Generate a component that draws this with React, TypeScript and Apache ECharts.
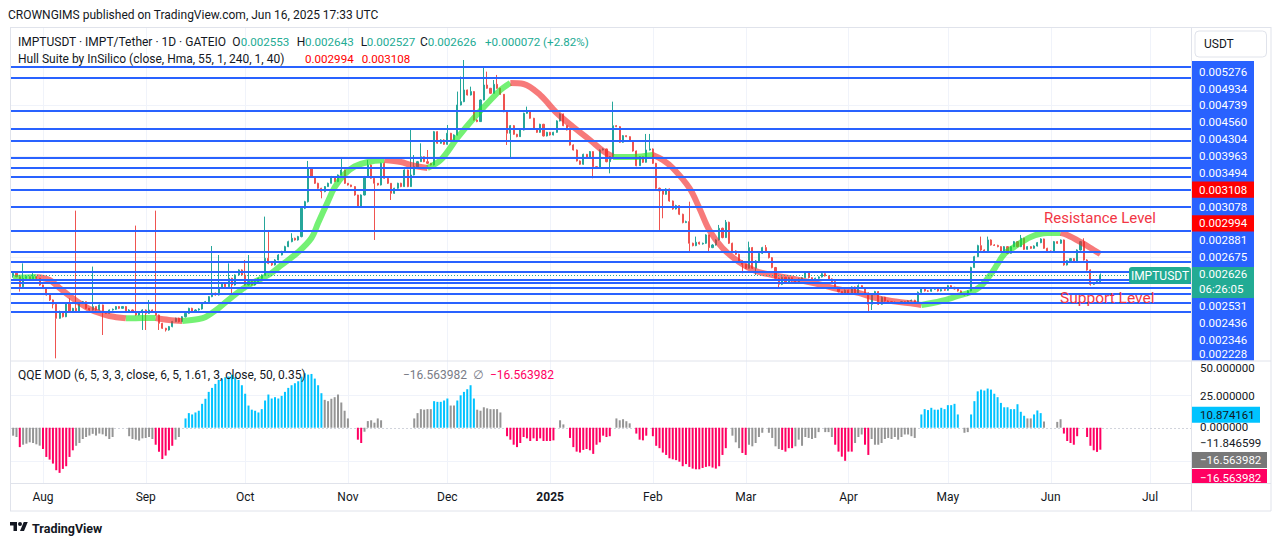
import React, { useEffect, useRef } from "react";
import * as echarts from "echarts";

const FONT = "Roboto, 'Noto Sans', 'DejaVu Sans', sans-serif";
const TEXT = "#131722";
const UP = "#26a69a";
const DOWN = "#ef5350";
const LEVEL_BLUE = "#2962ff";
const GRID_LINE = "#f0f3fa";
const BORDER = "#e0e3eb";

// ---------- data ----------
const startDate = Date.UTC(2024, 6, 23); // first daily candle
const categoryCount = 356; // days shown on the time axis (incl. empty right margin)
const monthNames = ["Jan", "Feb", "Mar", "Apr", "May", "Jun", "Jul", "Aug", "Sep", "Oct", "Nov", "Dec"];

// IMPTUSDT daily candles, micro-USDT: [open, high, low, close]
const ohlc: number[][] = [
  [2619,2663,2596,2645],[2645,2650,2600,2607],[2607,2612,2446,2498],[2498,2760,2490,2589],[2589,2615,2584,2607],
  [2607,2612,2565,2571],[2571,2663,2566,2607],[2607,2612,2583,2589],[2589,2594,2508,2516],[2516,2520,2474,2481],
  [2481,2485,2404,2411],[2411,2415,2350,2360],[2360,2365,2277,2317],[2317,2322,1839,2182],[2182,2255,2178,2245],
  [2245,2250,2190,2197],[2197,2336,2193,2326],[2326,2377,2238,2245],[2245,2282,2240,2277],[2277,3457,2238,2245],
  [2245,2332,2240,2326],[2326,2350,2320,2343],[2343,2346,2270,2277],[2277,2280,2254,2261],[2261,2722,2256,2294],
  [2294,2298,2255,2261],[2261,2316,2256,2310],[2310,2314,2032,2245],[2245,2250,2222,2229],[2229,2266,2225,2261],
  [2261,2275,2255,2268],[2268,2300,2262,2294],[2294,2298,2270,2277],[2277,2300,2273,2294],[2294,2298,2238,2245],
  [2245,2268,2240,2261],[2261,2266,2238,2245],[2245,3243,2206,2213],[2213,2250,2208,2245],[2245,2268,2076,2261],
  [2261,2266,2076,2229],[2229,2360,2224,2261],[2261,2266,2238,2245],[2245,3457,2206,2213],[2213,2218,2076,2136],
  [2136,2140,2085,2091],[2091,2095,2062,2076],[2076,2112,2070,2106],[2106,2158,2100,2152],[2152,2188,2146,2182],
  [2182,2188,2145,2152],[2152,2203,2146,2197],[2197,2235,2190,2229],[2229,2283,2222,2277],[2277,2283,2238,2245],
  [2245,2268,2238,2261],[2261,2278,2255,2271],[2271,2333,2265,2326],[2326,2350,2320,2343],[2343,2400,2336,2394],
  [2394,2972,2388,2429],[2429,2436,2404,2411],[2411,2860,2405,2481],[2481,2541,2475,2534],[2534,2540,2490,2498],
  [2498,2760,2492,2589],[2589,2595,2428,2516],[2516,2633,2510,2626],[2626,2690,2620,2683],[2683,2690,2620,2626],
  [2626,2800,2509,2516],[2516,2860,2510,2553],[2553,2560,2509,2516],[2516,2560,2510,2553],[2553,2596,2546,2589],
  [2589,2633,2582,2626],[2626,3370,2620,2820],[2820,3183,2750,2760],[2760,2770,2730,2741],[2741,2810,2735,2800],
  [2800,2870,2795,2860],[2860,2912,2855,2901],[2901,2975,2895,2964],[2964,3040,2958,3028],[3028,3139,3020,3072],
  [3072,3080,3042,3050],[3050,3104,3042,3094],[3094,3505,3085,3492],[3492,3605,3480,3592],[3592,4275,3580,4143],
  [4143,4150,3985,3998],[3998,4005,3875,3886],[3886,3895,3795,3804],[3804,3812,3644,3750],[3750,3840,3740,3831],
  [3831,3896,3825,3886],[3886,4010,3880,3998],[3998,4005,3905,3913],[3913,4035,3905,4026],[4026,4312,4020,4113],
  [4113,4120,3875,3886],[3886,3890,3848,3858],[3858,3862,3822,3831],[3831,3838,3685,3696],[3696,3700,3505,3517],
  [3517,3705,3510,3696],[3696,4010,3690,3998],[3998,4293,3990,4202],[4202,4210,3960,3970],[3970,3975,3050,3886],
  [3886,3890,3848,3858],[3858,4245,3850,4232],[4232,4240,3960,3970],[3970,3975,3875,3886],[3886,3890,3618,3723],
  [3723,3812,3715,3804],[3804,3895,3795,3886],[3886,3895,3822,3831],[3831,4125,3825,4113],[4113,4120,3822,3831],
  [3831,4880,3825,4026],[4026,4385,4020,4172],[4172,4275,4165,4262],[4262,4610,4255,4353],[4353,4360,4252,4262],
  [4262,4480,4222,4232],[4232,4240,4192,4202],[4202,4860,4195,4845],[4845,4855,4600,4611],[4611,4690,4600,4676],
  [4676,4690,4580,4590],[4590,4985,4582,4812],[4812,4820,4665,4676],[4676,4790,4665,4777],[4777,5750,4765,5430],
  [5430,6131,5420,5508],[5508,6581,5495,5790],[5790,5800,5655,5667],[5667,5873,5655,5750],[5750,5760,5080,5093],
  [5093,5110,5045,5058],[5058,5560,5050,5547],[5547,6371,5540,5914],[5914,6262,5820,5832],[5832,5840,5695,5708],
  [5708,6042,5700,5931],[5931,6174,5820,5832],[5832,5840,5672,5684],[5684,5690,5265,5278],[5278,5285,4577,4812],
  [4812,4985,4324,4971],[4971,4985,4780,4791],[4791,4800,4730,4743],[4743,4895,4735,4880],[4880,5255,4870,5241],
  [5241,5392,5230,5292],[5292,5300,5120,5130],[5130,5140,4890,4901],[4901,4910,4820,4831],[4831,5012,4822,5000],
  [5000,5010,4745,4757],[4757,4842,4748,4831],[4831,4840,4765,4777],[4777,4842,4768,4831],[4831,5085,4822,5072],
  [5072,5240,5062,5226],[5226,5235,4960,4971],[4971,4980,4870,4880],[4880,4890,4565,4577],[4577,4590,4470,4480],
  [4480,4490,4265,4275],[4275,4285,4205,4215],[4215,4410,4205,4398],[4398,4405,4325,4336],[4336,4460,4325,4449],
  [4449,4455,3970,4172],[4172,4180,4130,4143],[4143,4492,4135,4480],[4480,4512,4470,4500],[4500,4505,4250,4262],
  [4262,4365,4055,4353],[4353,5508,4345,4971],[4971,4985,4940,4950],[4950,4960,4618,4630],[4630,4775,4620,4763],
  [4763,4770,4732,4743],[4743,4750,4645,4656],[4656,4665,4450,4461],[4461,4470,4178,4190],[4190,4365,4185,4353],
  [4353,4360,4240,4251],[4251,4798,4245,4480],[4480,4798,4470,4500],[4500,4510,4222,4232],[4232,4240,3794,3804],
  [3804,3815,3183,3760],[3760,3770,3346,3707],[3707,3805,3700,3792],[3792,3800,3592,3603],[3603,3610,3470,3482],
  [3482,3545,3475,3532],[3532,3540,3392,3404],[3404,3412,3275,3285],[3285,3312,3278,3299],[3299,3592,2901,3007],
  [3007,3015,2968,2977],[2977,3094,2970,3020],[3020,3028,2990,2998],[2998,3015,2990,3007],[3007,3125,3000,3116],
  [3116,3120,2901,2952],[2952,2995,2945,2985],[2985,3060,2978,3050],[3050,3252,3042,3206],[3206,3215,3072,3081],
  [3081,3322,3075,3290],[3290,3298,2998,3007],[3007,3015,2900,2910],[2910,2918,2860,2869],[2869,2876,2778,2788],
  [2788,2795,2645,2749],[2749,2755,2694,2703],[2703,3028,2698,2952],[2952,2960,2694,2703],[2703,2798,2626,2788],
  [2788,2892,2780,2881],[2881,2962,2872,2952],[2952,2985,2884,2893],[2893,2900,2818,2828],[2828,2835,2702,2711],
  [2711,2718,2580,2589],[2589,2595,2481,2523],[2523,2608,2515,2600],[2600,2605,2530,2539],[2539,2604,2532,2596],
  [2596,2600,2552,2560],[2560,2565,2545,2553],[2553,2590,2548,2582],[2582,2604,2575,2596],[2596,2665,2590,2656],
  [2656,2660,2588,2596],[2596,2600,2566,2574],[2574,2596,2568,2589],[2589,2612,2582,2604],[2604,2650,2598,2641],
  [2641,2645,2608,2615],[2615,2620,2575,2582],[2582,2588,2546,2553],[2553,2558,2480,2488],[2488,2493,2438,2446],
  [2446,2450,2424,2432],[2432,2468,2426,2460],[2460,2466,2425,2432],[2432,2502,2426,2495],[2495,2500,2425,2432],
  [2432,2523,2426,2509],[2509,2512,2474,2481],[2481,2486,2425,2432],[2432,2438,2245,2317],[2317,2425,2261,2418],
  [2418,2454,2410,2446],[2446,2452,2310,2317],[2317,2395,2312,2387],[2387,2392,2343,2350],[2350,2356,2336,2343],
  [2343,2350,2330,2337],[2337,2345,2326,2333],[2333,2340,2323,2330],[2330,2350,2325,2343],[2343,2348,2320,2326],
  [2326,2357,2322,2350],[2350,2364,2345,2357],[2357,2362,2323,2330],[2330,2447,2325,2439],[2439,2482,2432,2474],
  [2474,2480,2446,2453],[2453,2462,2442,2450],[2450,2477,2445,2470],[2470,2488,2465,2481],[2481,2486,2446,2453],
  [2453,2474,2448,2467],[2467,2472,2453,2460],[2460,2517,2455,2509],[2509,2515,2485,2491],[2491,2496,2467,2474],
  [2474,2479,2446,2453],[2453,2458,2418,2425],[2425,2430,2404,2411],[2411,2460,2405,2453],[2453,2720,2448,2711],
  [2711,2850,2705,2840],[2840,2988,2835,2977],[2977,3094,2912,2922],[2922,2930,2892,2901],[2901,3094,2895,3050],
  [3050,3058,2978,2985],[2985,2995,2972,2980],[2980,2988,2956,2964],[2964,2970,2893,2901],[2901,2972,2895,2964],
  [2964,2970,2873,2881],[2881,2972,2875,2964],[2964,3037,2958,3028],[3028,3035,2956,2964],[2964,3116,2958,3072],
  [3072,3078,2922,2930],[2930,2972,2925,2964],[2964,2970,2936,2943],[2943,2980,2938,2972],[2972,3024,2966,3015],
  [3015,3072,3008,3063],[3063,3068,2936,2943],[2943,2950,2902,2910],[2910,2916,2890,2897],[2897,3037,2892,3028],
  [3028,3035,2999,3007],[3007,3058,3000,3050],[3050,3055,2733,2741],[2741,2800,2735,2792],[2792,2824,2786,2816],
  [2816,2822,2776,2784],[2784,2930,2778,2922],[2922,3037,2915,3028],[3028,3072,2792,2800],[2800,2808,2675,2683],
  [2683,2690,2509,2523],[2523,2546,2516,2539],[2539,2560,2532,2553],[2553,2643,2527,2626],
];

// QQE MOD histogram per candle (null = no bar)
const qqeValues: (number | null)[] = [
  -6,-7,-14.6,-12.8,-12,-11,-11.5,-12.5,-13.5,-16,
  -22,-24,-27,-32,-34,-31,-29,-22,-17,-13.6,
  -11.5,-8.5,-7,-5.9,-4.6,-5.9,-4.4,-5,-6.4,-8.5,
  -7,null,null,null,null,-6.4,-8.5,-9,-9.7,-8,
  -7.7,-7,-8.5,-12.8,-18,-23.6,-21,-17,-13.6,-9,
  -7,null,7,11,10,11.5,12.8,18,21.8,27,
  30,33,36,37,38,38.5,40,38,36,32,
  25.6,16.7,13.6,12.8,11.5,14,20.5,25,22,23,
  22,24,27,30,32,33.5,35,38.5,41,40,
  40.5,37,32,26,21,20,21.8,23,25,19,
  12.8,7,null,null,-9,-11.5,-3,5,5.6,3.8,
  7,5.6,null,null,null,null,null,null,null,null,
  null,7,11,14,13.6,14,14,20,19.5,19.5,
  20.5,22,16.7,16.7,20.5,24.4,27,29,32,22,
  13.6,12.8,15.4,14.6,14,14,14,11.5,null,-6.4,
  -9,-12.8,-14.6,-11.5,-7,-8,-10,-8,-10,-8,
  -10,-10,-10,-9.5,null,5.6,2.5,null,-7.7,-14.6,
  -18,-18.7,-16.7,-16,-17,-19.7,-12.8,-11,-6,-7,
  -6.4,null,7,5.6,6.4,4.9,3.3,null,-4.4,-9,
  -9.5,-6,null,-6.4,-13.6,-15.4,-18.7,-20.5,-23,-23.8,
  -24.4,-25.6,-29,-27.4,-29.5,-30.8,-31.3,-31.3,-30.3,-29.5,
  -29,-30,-30.8,-29,-20.5,-15.4,null,-6,-11,-15.4,
  -19,-20.5,-12.8,-14,-11.5,-7,-3.8,null,-3.8,-7.7,
  -14,-16,-16.7,-18,-15.4,-15.4,-14,-9,-13.6,-7,
  -7.7,-8.5,-7.7,-3.3,null,-3.3,-3.3,-7,-12.8,-18,
  -21.8,-24.9,-18,-18,-11.5,-7,-5.1,-12.8,-20.5,-8.5,
  -12.8,-12.8,-11.5,-8.5,-7.7,-8.5,-7,-9,-7,-5.1,
  -5.1,-6.4,-7.7,null,10,14,13.3,15,13.6,13.6,
  15,14,17,17,18,10,null,-3.8,-3.3,10,
  20,27.4,28.7,28,29.5,28.7,25.6,23,18.7,15.4,
  15.4,14,14,17.7,12,9,7,7,10,13,
  11,4.6,null,null,null,4.4,6.4,-4.4,-10,-11.5,
  -12.8,-6.4,null,null,-7,-13.6,-17,-18.2,-16.56,
];
// bar class per candle: b = above upper threshold, p = below lower, g = neutral
const qqeClasses =
  "ggpggggggp" + "pppppppppg" + "gggggggggg" + "g....ggggg" + "gggppppppg" +
  "g.bbbbbbbb" + "bbbbbbbbbb" + "bbbbbbbbbb" + "bbbbbbbbbb" + "bbbbgggggg" +
  "gg..ppgggg" + "gg........" + ".ggggggbbb" + "bbggbbbbbb" + "gggggggg.p" +
  "pppppppppp" + "pppp.gg.pp" + "pppppppppp" + "p.ggggg.pp" + "pp.ppppppp" +
  "pppppppppp" + "pppppp.ggg" + "ppggggg.gg" + "ggppppgggg" + "gggg.gggpp" +
  "ppppgggppg" + "gggggggggg" + "ggg.bbbbbb" + "bbbbbb.ggb" + "bbbbbbbbbb" +
  "bbbbbbggbb" + "bg...ggppp" + "pp..ppppp";

// Hull Suite band, [candle index, micro-USDT], split by trend colour
const hullSegments: { up: boolean; pts: number[][] }[] = [
  { up: true, pts: [[0,2593],[7,2604]] },
  { up: false, pts: [[7,2604],[11,2571],[14,2484],[17,2401],[20,2330],[23,2271],[26,2232],[29,2204],[34,2182]] },
  { up: true, pts: [[34,2182],[39,2184],[43,2185]] },
  { up: false, pts: [[43,2185],[47,2167],[51,2158]] },
  { up: true, pts: [[51,2158],[56,2176],[58,2194],[62,2280],[66,2390],[71,2516],[77,2626],[81,2741],[86,2897],[90,3076],[92,3280],[95,3600],[97,3820],[100,4040],[103,4175],[107,4256],[112,4293]] },
  { up: false, pts: [[112,4293],[117,4256],[120,4202],[125,4148]] },
  { up: true, pts: [[125,4148],[129,4293],[134,4716],[139,5137],[144,5547],[147,5790],[150,5965]] },
  { up: false, pts: [[150,5965],[154,5940],[159,5667],[164,5247],[169,4943],[174,4676],[178,4461],[181,4348]] },
  { up: true, pts: [[181,4348],[187,4348],[193,4385]] },
  { up: false, pts: [[193,4385],[196,4293],[199,4148],[204,3809],[207,3497],[210,3183],[214,2947],[219,2776],[224,2672],[229,2626],[234,2593],[240,2549],[244,2516],[250,2463],[255,2432],[259,2390],[265,2350],[270,2330],[274,2310]] },
  { up: true, pts: [[274,2310],[280,2350],[285,2401],[289,2442],[292,2505],[295,2637],[297,2753],[299,2872],[302,2960],[307,3090],[312,3143],[316,3143]] },
  { up: false, pts: [[316,3143],[318,3116],[322,3024],[326,2922],[328,2872]] },
];

// user-drawn horizontal levels (micro-USDT)
const levelLines = [6397, 6103, 5301, 4906, 4654, 4330, 4154, 3998, 3781, 3516, 3174, 2901, 2780, 2660, 2571, 2534, 2480, 2421, 2327, 2239];
const priceGridLevels = [5430, 4372, 2840];
const lastPrice = 2626;
const priceRange = [1826, 7578];
const qqeRange = [-42, 51];
const qqeGridLevels = [25, -25];

// stacked price-scale labels (top to bottom)
const priceAxisLabels = ["0.005276","0.004934","0.004739","0.004560","0.004304","0.003963","0.003494","0.003108","0.003078","0.002994","0.002881","0.002675","0.002626","0.002531","0.002436","0.002346","0.002228"];
const hullAxisLabels = ["0.003108", "0.002994"];
const lastPriceLabel = "0.002626";
const countdown = "06:26:05";
const qqeAxisTicks = ["50.000000", "25.000000", "0.000000", "−11.846599"];
const qqeAxisBoxes = ["10.874161", "−16.563982", "−16.563982"];

// ---------- helpers ----------
const TV_LOGO = "M14 22H7V11H0V4h14v18z M28 22h-8l7.5-18h8L28 22z M24 8a4 4 0 1 1-8 0 4 4 0 0 1 8 0z";
let logoRegistered = false;
function registerLogo() {
  if (logoRegistered) return;
  echarts.graphic.registerShape("tvlogo", echarts.graphic.extendPath(TV_LOGO, {}) as any);
  logoRegistered = true;
}

function txt(x: number, y: number, text: string, o: any = {}) {
  const align = o.align || "left";
  return {
    type: "text", x, y, z: o.z ?? 100, silent: true,
    style: {
      text, fill: o.fill || TEXT, fontSize: o.size || 12, fontFamily: FONT, fontWeight: o.weight || "normal",
      align, verticalAlign: "middle", textAlign: align, textVerticalAlign: "middle",
    },
  };
}
function rect(x: number, y: number, w: number, h: number, fill: string, o: any = {}) {
  return { type: "rect", z: o.z ?? 90, silent: true, shape: { x, y, width: w, height: h, r: o.r || 0 }, style: { fill, stroke: o.stroke || null, lineWidth: 1 } };
}
function ln(x1: number, y1: number, x2: number, y2: number, color: string) {
  return { type: "line", z: 95, silent: true, shape: { x1, y1, x2, y2 }, style: { stroke: color, lineWidth: 1 } };
}

// horizontal rule across a grid at each value, positioned by the axis scale
function hRules(axisIdx: number, values: number[], stroke: string, width: number, z: number, dash?: number[]) {
  return {
    type: "custom", xAxisIndex: axisIdx, yAxisIndex: axisIdx, z, silent: true, clip: false,
    data: values.map((v) => [0, v]),
    renderItem: (params: any, api: any) => {
      const cs = params.coordSys;
      let y = api.coord([api.value(0), api.value(1)])[1];
      if (width % 2 === 1) y = Math.round(y) + 0.5; else y = Math.round(y);
      return {
        type: "line", silent: true,
        shape: { x1: cs.x - 1.5, y1: y, x2: cs.x + cs.width, y2: y },
        style: { stroke, lineWidth: width, lineDash: dash || null },
      };
    },
  };
}
// vertical rule through a grid at each category index
function vRules(axisIdx: number, indices: number[], yRef: number, stroke: string, z: number) {
  return {
    type: "custom", xAxisIndex: axisIdx, yAxisIndex: axisIdx, z, silent: true, clip: false,
    data: indices.map((i) => [i, yRef]),
    renderItem: (params: any, api: any) => {
      const cs = params.coordSys;
      const x = Math.round(api.coord([api.value(0), api.value(1)])[0]) + 0.5;
      return {
        type: "line", silent: true,
        shape: { x1: x, y1: cs.y, x2: x, y2: cs.y + cs.height },
        style: { stroke, lineWidth: 1 },
      };
    },
  };
}

function buildOption() {
  const categories: string[] = [];
  for (let i = 0; i < categoryCount; i++) {
    categories.push(new Date(startDate + i * 86400000).toISOString().slice(0, 10));
  }
  const monthStartIdx: number[] = [];
  categories.forEach((c, i) => { if (c.slice(8) === "01") monthStartIdx.push(i); });
  const toPrice = (v: number) => v / 1e6;

  const candleData = ohlc.map(([o, h, l, c]) => [toPrice(o), toPrice(c), toPrice(l), toPrice(h)]);
  const qqeColor: Record<string, string> = { b: "#00c3ff", p: "#ff0062", g: "#959595" };
  const qqeData = qqeValues.map((v, i) =>
    v == null || qqeClasses[i] === "." ? "-" : { value: v, itemStyle: { color: qqeColor[qqeClasses[i]] } }
  );

  const hullSeries = hullSegments.map((s) => ({
    type: "line", xAxisIndex: 0, yAxisIndex: 0, z: 3, smooth: 0.35, showSymbol: false, symbol: "none", silent: true,
    emphasis: { disabled: true },
    lineStyle: { width: 6, color: s.up ? "rgba(30,232,30,0.62)" : "rgba(242,40,40,0.62)", cap: "butt" },
    data: s.pts.map(([i, v]) => [i, toPrice(v)]),
  }));

  const g: any[] = [];
  // frame
  g.push(ln(10, 27.5, 1271, 27.5, BORDER));
  g.push(ln(10.5, 27, 10.5, 511, BORDER));
  g.push(ln(1271, 27, 1271, 511, BORDER));
  g.push(ln(10, 511, 1271, 511, BORDER));
  g.push(ln(1191.5, 27, 1191.5, 511, BORDER));
  g.push(ln(10, 361, 1271, 361, BORDER));
  g.push(ln(10, 483.5, 1271, 483.5, BORDER));

  // header and legends
  const teal = "#22ab94";
  const vs = 11.6;
  g.push(txt(8, 15, "CROWNGIMS published on TradingView.com, Jun 16, 2025 17:33 UTC", { size: 12 }));
  g.push(txt(18, 42, "IMPTUSDT · IMPT/Tether · 1D · GATEIO"));
  g.push(txt(232.3, 42, "O"));
  g.push(txt(240.7, 42, "0.002553", { fill: teal, size: vs }));
  g.push(txt(296.7, 42, "H"));
  g.push(txt(305, 42, "0.002643", { fill: teal, size: vs }));
  g.push(txt(360.7, 42, "L"));
  g.push(txt(366.7, 42, "0.002527", { fill: teal, size: vs }));
  g.push(txt(420, 42, "C"));
  g.push(txt(427.7, 42, "0.002626", { fill: teal, size: vs }));
  g.push(txt(485, 42, "+0.000072 (+2.82%)", { fill: teal, size: vs }));
  g.push(txt(18, 59, "Hull Suite by InSilico (close, Hma, 55, 1, 240, 1, 40)"));
  g.push(txt(305, 59, hullAxisLabels[1], { fill: "#ff0000", size: vs }));
  g.push(txt(361.7, 59, hullAxisLabels[0], { fill: "#ff0000", size: vs }));
  g.push(txt(18, 375, "QQE MOD (6, 5, 3, 3, close, 6, 5, 1.61, 3, close, 50, 0.35)"));
  g.push(txt(403, 375, qqeAxisBoxes[1], { fill: "#787b86" }));
  g.push(txt(473, 375, "∅", { fill: "#787b86" }));
  g.push(txt(490, 375, qqeAxisBoxes[2], { fill: "#ff0062" }));

  // annotations
  g.push(txt(1044, 218, "Resistance Level", { fill: "#f23645", size: 15 }));
  g.push(txt(1060, 298, "Support Level", { fill: "#f23645", size: 15.5 }));

  // price scale
  g.push(rect(1195, 31, 71.5, 26, "#ffffff", { r: 4, stroke: BORDER }));
  g.push(txt(1204, 44, "USDT", { size: 12 }));
  g.push(txt(1200, 368, qqeAxisTicks[0], { size: 11.5, z: 80 }));
  g.push(rect(1192, 61, 62, 299.5, LEVEL_BLUE));
  let cy = 71.7;
  priceAxisLabels.forEach((lab, k) => {
    if (lab === lastPriceLabel) {
      g.push(rect(1192, 267, 62, 31, teal, { z: 91 }));
      g.push(txt(1199, cy, lab, { fill: "#ffffff", size: 11.5 }));
      g.push(txt(1199, cy + 15.5, countdown, { fill: "#ffffff", size: 11.5 }));
      g.push(rect(1129, 267, 62, 17, teal, { r: 3, z: 91 }));
      g.push(txt(1160, 275.6, "IMPTUSDT", { fill: "#ffffff", size: 12, align: "center" }));
      cy += 32.2;
      return;
    }
    if (hullAxisLabels.includes(lab)) g.push(rect(1192, cy - 8.2, 62, 16.4, "#ff0000", { z: 91 }));
    const y = k === priceAxisLabels.length - 1 ? cy - 2.5 : cy;
    g.push(txt(1199, y, lab, { fill: "#ffffff", size: 11.5 }));
    cy += 16.85;
  });

  // QQE scale
  g.push(txt(1200, 395.6, qqeAxisTicks[1], { size: 11.5 }));
  g.push(rect(1192, 406.7, 68, 16, "#00c3ff"));
  g.push(txt(1200, 414.7, qqeAxisBoxes[0], { size: 11.5 }));
  g.push(txt(1200, 427, qqeAxisTicks[2], { size: 11.5 }));
  g.push(txt(1200, 443.3, qqeAxisTicks[3], { size: 11.5 }));
  g.push(rect(1192, 452, 75, 16, "#787878"));
  g.push(txt(1200, 460, qqeAxisBoxes[1], { fill: "#ffffff", size: 11.5 }));
  g.push(rect(1192, 469, 75, 14.5, "#ff0062"));
  g.push(txt(1200, 477.5, qqeAxisBoxes[2], { fill: "#ffffff", size: 11.5 }));

  // footer logo
  g.push({ type: "tvlogo", x: 10, y: 520, scaleX: 0.5, scaleY: 0.5, z: 100, silent: true, style: { fill: TEXT } });
  g.push(txt(32, 528.5, "TradingView", { size: 12.5, weight: "bold" }));

  return {
    animation: false,
    backgroundColor: "#ffffff",
    textStyle: { fontFamily: FONT },
    grid: [
      { left: 11.5, right: 89.5, top: 27, height: 333 },
      { left: 11.5, right: 89.5, top: 360, height: 123.5 },
    ],
    xAxis: [
      { type: "category", gridIndex: 0, data: categories, boundaryGap: true, show: false },
      {
        type: "category", gridIndex: 1, data: categories, boundaryGap: true,
        axisLine: { show: false }, axisTick: { show: false }, splitLine: { show: false },
        axisLabel: {
          show: true, margin: 7, color: TEXT, fontSize: 12, fontFamily: FONT,
          interval: (_i: number, v: string) => v.slice(8) === "01",
          formatter: (v: string) => {
            const m = +v.slice(5, 7);
            return m === 1 ? "{y|" + v.slice(0, 4) + "}" : monthNames[m - 1];
          },
          rich: { y: { fontWeight: "bold", fontSize: 12, fontFamily: FONT, color: TEXT } },
        },
      },
    ],
    yAxis: [
      { type: "log", logBase: 10, gridIndex: 0, min: toPrice(priceRange[0]), max: toPrice(priceRange[1]), show: false },
      { type: "value", gridIndex: 1, min: qqeRange[0], max: qqeRange[1], show: false },
    ],
    series: [
      vRules(0, monthStartIdx, toPrice(lastPrice), GRID_LINE, 0),
      hRules(0, priceGridLevels.map(toPrice), GRID_LINE, 1, 0),
      {
        type: "candlestick", xAxisIndex: 0, yAxisIndex: 0, z: 2, barWidth: 1.6, silent: true,
        itemStyle: { color: UP, color0: DOWN, borderColor: UP, borderColor0: DOWN, borderWidth: 1 },
        data: candleData,
      },
      ...hullSeries,
      hRules(0, levelLines.map(toPrice), LEVEL_BLUE, 2, 4),
      hRules(0, [toPrice(lastPrice)], UP, 1, 4, [1, 2]),
      vRules(1, monthStartIdx, 0, GRID_LINE, 0),
      hRules(1, qqeGridLevels, GRID_LINE, 1, 0),
      hRules(1, [0], "#d1d4dc", 1, 1, [2, 2]),
      { type: "bar", xAxisIndex: 1, yAxisIndex: 1, barWidth: 2, silent: true, z: 2, data: qqeData },
    ],
    graphic: g,
  };
}

export default function App() {
  const ref = useRef<HTMLDivElement>(null);
  useEffect(() => {
    document.body.style.margin = "0";
    registerLogo();
    const chart = echarts.init(ref.current!, null, { renderer: "svg", width: 1281, height: 546 });
    chart.setOption(buildOption() as any);
    return () => chart.dispose();
  }, []);
  return <div ref={ref} style={{ width: 1281, height: 546, background: "#ffffff" }} />;
}
